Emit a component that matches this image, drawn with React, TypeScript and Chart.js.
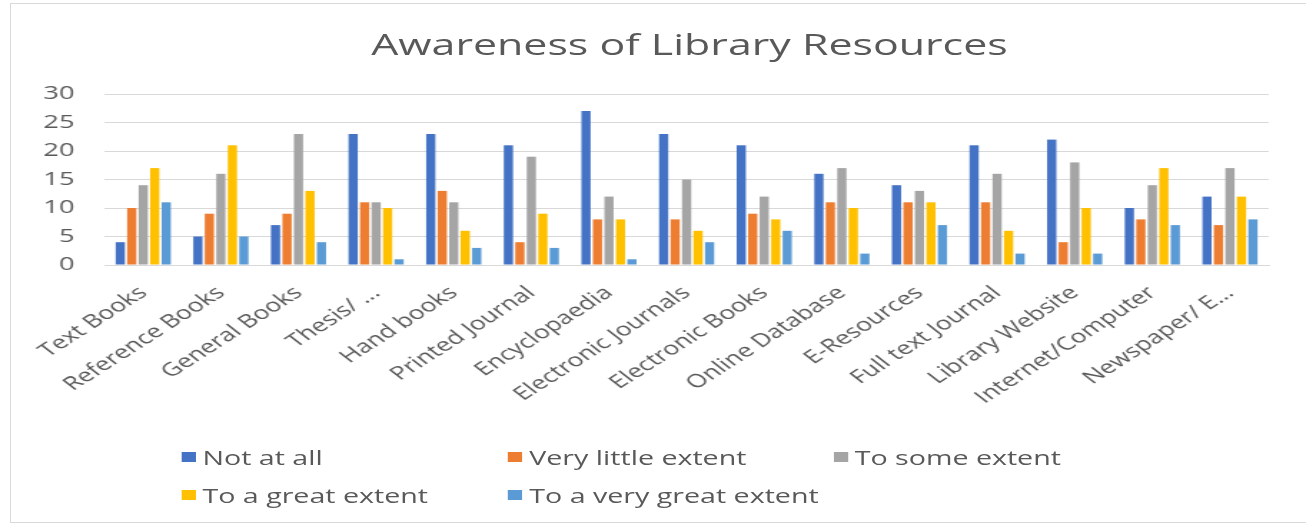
import React, { useEffect, useRef } from "react";
import { Chart, registerables } from "chart.js";

Chart.register(...registerables);

const categories = [
  "Text Books", "Reference Books", "General Books", "Thesis/ ...", "Hand books",
  "Printed Journal", "Encyclopaedia", "Electronic Journals", "Electronic Books",
  "Online Database", "E-Resources", "Full text Journal", "Library Website",
  "Internet/Computer", "Newspaper/ E...",
];
const notAtAll = [4, 5, 7, 23, 23, 21, 27, 23, 21, 16, 14, 21, 22, 10, 12];
const veryLittle = [10, 9, 9, 11, 13, 4, 8, 8, 9, 11, 11, 11, 4, 8, 7];
const toSome = [14, 16, 23, 11, 11, 19, 12, 15, 12, 17, 13, 16, 18, 14, 17];
const toGreat = [17, 21, 13, 10, 6, 9, 8, 6, 8, 10, 11, 6, 10, 17, 12];
const toVeryGreat = [11, 5, 4, 1, 3, 3, 1, 4, 6, 2, 7, 2, 2, 7, 8];
const seriesNames = ["Not at all", "Very little extent", "To some extent", "To a great extent", "To a very great extent"];
const seriesColors = ["#4472C4", "#ED7D31", "#A5A5A5", "#FFC000", "#5B9BD5"];
const yTicks = [0, 5, 10, 15, 20, 25, 30];
const chartTitle = "Awareness of Library Resources";

const FONT = "'Open Sans', 'Liberation Sans', sans-serif";
const TEXT = "#595959";
// the reference is a horizontally stretched picture; draw narrower and stretch
const STRETCH = 1.4304;
const W = 913;
const H = 430;

export default function App() {
  const ref = useRef<HTMLCanvasElement | null>(null);
  useEffect(() => {
    if (!ref.current) return;
    const data = [notAtAll, veryLittle, toSome, toGreat, toVeryGreat];
    const chart = new Chart(ref.current, {
      type: "bar",
      data: {
        labels: categories,
        datasets: data.map((d, i) => ({
          label: seriesNames[i],
          data: d,
          backgroundColor: seriesColors[i],
          categoryPercentage: 0.74,
          barPercentage: 0.8,
        })),
      },
      options: {
        animation: false,
        responsive: false,
        maintainAspectRatio: false,
        layout: { padding: { left: 14, right: 26, top: 94, bottom: 0 } },
        plugins: {
          legend: { display: false },
          tooltip: { enabled: false },
          title: { display: false },
        },
        scales: {
          x: {
            grid: { display: false },
            border: { color: "#d9d9d9" },
            ticks: {
              color: TEXT,
              font: { family: FONT, size: 18.5 },
              minRotation: 42.3,
              maxRotation: 42.3,
              autoSkip: false,
              padding: 9,
            },
            afterFit: (s: any) => { s.height = H - 265; },
          },
          y: {
            min: 0,
            max: 30,
            afterBuildTicks: (s: any) => { s.ticks = yTicks.map((v) => ({ value: v })); },
            grid: { color: "#d9d9d9", drawTicks: false },
            border: { display: false },
            ticks: { color: TEXT, font: { family: FONT, size: 19 }, padding: 21 },
            afterFit: (s: any) => { s.width = 59; },
          },
        },
      },
    });
    return () => chart.destroy();
  }, []);

  const legendPos = [
    { x: 126.5, y: 457 }, { x: 355, y: 457 }, { x: 582.5, y: 457 },
    { x: 126.5, y: 495 }, { x: 355, y: 495 },
  ];

  return (
    <div style={{ position: "absolute", left: 0, top: 0, width: 1306, height: 526, background: "#fff", overflow: "hidden" }}>
      <div style={{ position: "absolute", left: 10, top: 3, width: 1300, height: 520, border: "1px solid #d9d9d9", boxSizing: "border-box" }} />
      <div style={{ position: "absolute", left: 0, top: 0, width: W, height: 526, transform: `scale(${STRETCH}, 1)`, transformOrigin: "0 0" }}>
        <div style={{ position: "absolute", left: 0, top: 24, width: 964, textAlign: "center", fontFamily: FONT, fontSize: 30, color: TEXT, lineHeight: "40px", whiteSpace: "nowrap" }}>
          {chartTitle}
        </div>
        <canvas ref={ref} width={W} height={H} style={{ position: "absolute", left: 0, top: 0 }} />
        {seriesNames.map((n, i) => (
          <div key={n} style={{ position: "absolute", left: legendPos[i].x, top: legendPos[i].y - 14, height: 28, display: "flex", alignItems: "center", fontFamily: FONT, fontSize: 20, color: TEXT, whiteSpace: "nowrap" }}>
            <span style={{ display: "inline-block", width: 10, height: 10, background: seriesColors[i], marginRight: 5 }} />
            {n}
          </div>
        ))}
      </div>
    </div>
  );
}
